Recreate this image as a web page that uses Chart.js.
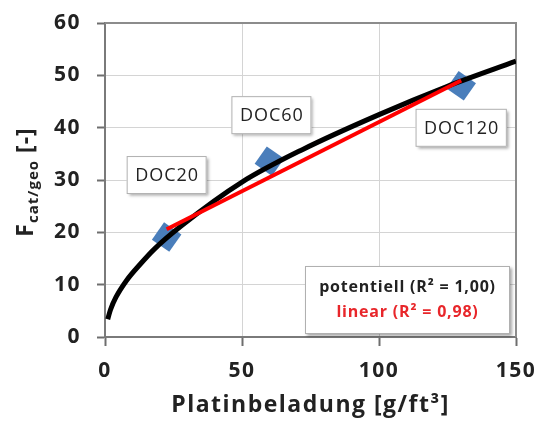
<!DOCTYPE html>
<html>
<head>
<meta charset="utf-8">
<script src="https://cdn.jsdelivr.net/npm/chart.js@4/dist/chart.umd.min.js"></script>
<style>
html,body{margin:0;padding:0;background:#fff;}
#wrap{width:538px;height:421px;}
</style>
</head>
<body>
<div id="wrap"><canvas id="c" width="538" height="421"></canvas></div>
<script>
// ---- data ----
const pointLabels = ["DOC20", "DOC60", "DOC120"];
const pointX = [22.5, 60, 130];
const pointY = [19.1, 33.6, 48.0];

// power trend line (potentiell)
const powerX = [1, 2, 4, 8, 13, 18, 28, 50, 72, 100, 125, 150];
const powerY = [3.4, 5.2, 7.6, 10.9, 14.0, 16.8, 21.3, 29.6, 35.8, 42.5, 47.9, 52.7];

// linear trend line
const linearX = [22.5, 130];
const linearY = [20.6, 49.0];

const xTickValues = [0, 50, 100, 150];
const yTickValues = [0, 10, 20, 30, 40, 50, 60];

const legendLines = ["potentiell (R\u00B2 = 1,00)", "linear (R\u00B2 = 0,98)"];
const xTitle = "Platinbeladung [g/ft\u00B3]";
const yTitleMain = "F";
const yTitleSub = "cat/geo";
const yTitleTail = " [-]";

// ---- styling (not data) ----
const labelOffsets = [[0, -62], [2, -46], [0, 42]];
const FONT = "'Open Sans', 'Liberation Sans', sans-serif";
const SPACING = '1.5px';

const toXY = (xs, ys) => xs.map((x, i) => ({x: x, y: ys[i]}));
const zeroPad = s => { s.paddingTop = 0; s.paddingBottom = 0; s.paddingLeft = 0; s.paddingRight = 0; };

const overlayPlugin = {
  id: 'overlay',
  beforeDraw(chart) {
    chart.ctx.letterSpacing = SPACING;
  },
  beforeDatasetsDraw(chart) {
    const {ctx, chartArea: a} = chart;
    ctx.save();
    ctx.strokeStyle = '#8c8c8c';
    ctx.lineWidth = 2;
    ctx.beginPath();
    ctx.moveTo(a.left, a.top); ctx.lineTo(a.right, a.top); ctx.lineTo(a.right, a.bottom);
    ctx.stroke();
    ctx.restore();
  },
  afterDatasetsDraw(chart) {
    const {ctx, chartArea: a, scales} = chart;
    // data labels
    ctx.save();
    ctx.letterSpacing = '1px';
    ctx.font = "18px " + FONT;
    ctx.textAlign = 'center';
    ctx.textBaseline = 'middle';
    pointLabels.forEach((t, i) => {
      const px = scales.x.getPixelForValue(pointX[i]) + labelOffsets[i][0];
      const py = scales.y.getPixelForValue(pointY[i]) + labelOffsets[i][1];
      const w = ctx.measureText(t).width + 16;
      const h = 38;
      ctx.save();
      ctx.shadowColor = 'rgba(0,0,0,0.35)';
      ctx.shadowOffsetX = 2; ctx.shadowOffsetY = 2; ctx.shadowBlur = 3;
      ctx.fillStyle = '#fff';
      ctx.fillRect(px - w / 2, py - h / 2, w, h);
      ctx.restore();
      ctx.strokeStyle = '#b0b0b0';
      ctx.lineWidth = 1;
      ctx.strokeRect(px - w / 2 + 0.5, py - h / 2 + 0.5, w - 1, h - 1);
      ctx.fillStyle = '#222';
      ctx.fillText(t, px + 0.5, py + 1);
    });
    // trend legend box
    const bw = 205, bh = 68;
    const bx = a.right - 6 - bw, by = a.bottom - 3 - bh;
    ctx.save();
    ctx.shadowColor = 'rgba(0,0,0,0.35)';
    ctx.shadowOffsetX = 2; ctx.shadowOffsetY = 2; ctx.shadowBlur = 3;
    ctx.fillStyle = '#fff';
    ctx.fillRect(bx, by, bw, bh);
    ctx.restore();
    ctx.strokeStyle = '#b0b0b0';
    ctx.strokeRect(bx + 0.5, by + 0.5, bw - 1, bh - 1);
    ctx.letterSpacing = '0.8px';
    ctx.font = "bold 16px " + FONT;
    ctx.fillStyle = '#222';
    ctx.fillText(legendLines[0], bx + bw / 2, by + 21);
    ctx.fillStyle = '#e8262a';
    ctx.fillText(legendLines[1], bx + bw / 2, by + 46);
    ctx.restore();

    // y title with subscript
    ctx.save();
    ctx.letterSpacing = '1px';
    const cx = 25, cy = (a.top + a.bottom) / 2 + 2;
    ctx.translate(cx, cy);
    ctx.rotate(-Math.PI / 2);
    ctx.fillStyle = '#222';
    ctx.textBaseline = 'alphabetic';
    ctx.textAlign = 'left';
    const fMain = "bold 23px " + FONT, fSub = "bold 15px " + FONT;
    ctx.font = fMain; const w1 = ctx.measureText(yTitleMain).width;
    ctx.font = fSub; const w2 = ctx.measureText(yTitleSub).width;
    ctx.font = fMain; const w3 = ctx.measureText(yTitleTail).width;
    let x0 = -(w1 + w2 + w3) / 2;
    const base = 8;
    ctx.font = fMain; ctx.fillText(yTitleMain, x0, base); x0 += w1;
    ctx.font = fSub; ctx.fillText(yTitleSub, x0, base + 5); x0 += w2;
    ctx.font = fMain; ctx.fillText(yTitleTail, x0, base);
    ctx.restore();
  }
};

new Chart(document.getElementById('c'), {
  type: 'scatter',
  data: {
    datasets: [
      {
        label: 'Messpunkte',
        data: toXY(pointX, pointY),
        pointStyle: 'rectRot',
        pointRadius: 15,
        pointRotation: -10,
        backgroundColor: '#4a7ebb',
        borderColor: '#4a7ebb',
        borderWidth: 0,
        order: 3
      },
      {
        label: 'potentiell',
        type: 'line',
        data: toXY(powerX, powerY),
        borderColor: '#000',
        borderWidth: 5,
        pointRadius: 0,
        cubicInterpolationMode: 'monotone',
        fill: false,
        order: 2
      },
      {
        label: 'linear',
        type: 'line',
        data: toXY(linearX, linearY),
        borderColor: '#f00',
        borderWidth: 4,
        pointRadius: 0,
        fill: false,
        order: 1
      }
    ]
  },
  options: {
    responsive: false,
    animation: false,
    layout: {padding: {left: 0, right: 22, top: 23, bottom: 0}},
    plugins: {legend: {display: false}, tooltip: {enabled: false}},
    scales: {
      x: {
        type: 'linear',
        min: 0, max: 150,
        afterBuildTicks: s => { s.ticks = xTickValues.map(v => ({value: v})); },
        afterFit: s => { s.height = 84; zeroPad(s); },
        grid: {color: '#d4d4d4', lineWidth: 1, tickColor: '#6e6e6e', tickLength: 9, tickWidth: 2},
        border: {color: '#7a7a7a', width: 2},
        ticks: {padding: 12, color: '#222', font: {family: FONT, size: 21, weight: 'bold'}, maxRotation: 0},
        title: {display: true, text: xTitle, color: '#222', font: {family: FONT, size: 23, weight: 'bold'}, padding: {top: 0, bottom: 2}}
      },
      y: {
        type: 'linear',
        min: 0, max: 60,
        afterBuildTicks: s => { s.ticks = yTickValues.map(v => ({value: v})); },
        afterFit: s => { s.width = 105; zeroPad(s); },
        grid: {color: '#d4d4d4', lineWidth: 1, tickColor: '#6e6e6e', tickLength: 8, tickWidth: 2},
        border: {color: '#7a7a7a', width: 2},
        ticks: {padding: 16, color: '#222', font: {family: FONT, size: 21, weight: 'bold'}}
      }
    }
  },
  plugins: [overlayPlugin]
});
</script>
</body>
</html>
